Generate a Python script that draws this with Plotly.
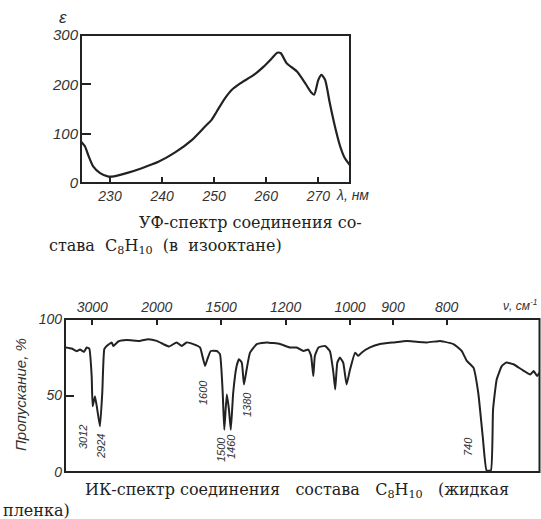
import plotly.graph_objects as go

# ---------------- UV spectrum data (wavelength, nm ; epsilon) ----------------
uv_nm = [224.4, 225.2, 225.8, 226.8, 228.1, 229.7, 231.0, 233.5, 236.1, 239.3,
         242.5, 245.7, 248.2, 249.5, 250.5, 252.1, 253.4, 255.0, 257.6, 259.5,
         261.1, 262.1, 262.8, 263.9, 265.9, 267.5, 268.6, 269.2, 270.0, 270.6,
         271.3, 272.2, 273.2, 274.2, 275.1, 276.0]
uv_eps = [84, 74, 57, 33, 20, 13, 14, 21, 30, 43,
          62, 87, 114, 128, 145, 172, 189, 202, 219, 236,
          253, 264, 263, 243, 226, 202, 184, 179, 209, 219,
          209, 162, 114, 74, 50, 37]
uv_xticks = [230, 240, 250, 260, 270]
uv_yticks = [0, 100, 200, 300]

# ---------------- IR spectrum data (wavenumber, cm-1 ; transmittance %) ----------------
ir_nu = [3769, 3571, 3413, 3316, 3206, 3136, 3071, 3014, 2991, 2938,
         2888, 2831, 2784, 2744, 2698, 2607, 2580, 2496, 2368, 2189,
         2091, 2000, 1934, 1880, 1813, 1771, 1732, 1682, 1634, 1618,
         1600, 1585, 1563, 1526, 1507, 1491, 1482, 1468, 1456, 1446,
         1433, 1415, 1403, 1389, 1378, 1365, 1349, 1318, 1275, 1221,
         1184, 1160, 1137, 1121, 1112, 1105, 1100, 1089, 1069, 1055,
         1045, 1040, 1034, 1027, 1018, 1009, 1000, 987, 979, 971,
         951, 928, 899, 872, 859, 834, 811, 806, 789, 776,
         768, 758, 751, 744.5, 739, 733, 730, 725, 718, 712,
         703, 692.5, 682, 678, 674, 671]
ir_T = [81.4, 80.7, 79.0, 80.0, 78.5, 81.4, 80.7, 62.7, 43.0, 49.5,
        40.8, 29.8, 51.8, 80.3, 82.4, 84.7, 82.4, 85.3, 86.2, 85.7,
        86.8, 85.7, 83.6, 82.0, 84.7, 82.4, 84.7, 83.6, 81.4, 75.9,
        69.3, 73.7, 79.1, 79.1, 77.0, 51.8, 27.6, 50.7, 40.8, 27.6,
        51.8, 69.3, 73.7, 71.5, 57.2, 67.0, 78.0, 83.6, 84.7, 83.6,
        81.4, 81.4, 79.1, 80.0, 75.9, 62.7, 75.9, 81.4, 82.4, 79.0,
        65.0, 54.0, 71.5, 74.8, 71.5, 57.2, 67.0, 78.0, 75.9, 78.0,
        81.4, 83.6, 84.7, 85.7, 85.3, 84.7, 85.7, 85.3, 83.6, 79.1,
        72.6, 68.2, 51.8, 23.2, 1.0, 1.0, 40.8, 60.5, 69.3, 71.5,
        70.4, 67.0, 63.8, 66.0, 62.7, 65.0]
ir_tick_nu = [3000, 2000, 1500, 1200, 1000, 900, 800]
ir_yticks = [0, 50, 100]
ir_peaks = ["3012", "2924", "1600", "1500", "1460", "1380", "740"]

# The IR chart is drawn linear in wavelength (um), labelled in wavenumbers
ir_um = [1e4 / v for v in ir_nu]
ir_tick_um = [1e4 / v for v in ir_tick_nu]

W, H = 541, 519
INK = "#222222"
TICKFONT = dict(family="Liberation Sans Narrow, Liberation Sans, Arial", size=14,
                color="#333333", style="italic")


def px(x, y):
    return x / W, 1 - y / H


fig = go.Figure()
fig.add_trace(go.Scatter(x=uv_nm, y=uv_eps, mode="lines", xaxis="x", yaxis="y",
                         line=dict(color=INK, width=2.2, shape="spline", smoothing=0.6),
                         showlegend=False, hoverinfo="skip"))
fig.add_trace(go.Scatter(x=ir_um, y=ir_T, mode="lines", xaxis="x2", yaxis="y2",
                         line=dict(color=INK, width=2, shape="spline", smoothing=0.4),
                         showlegend=False, hoverinfo="skip"))

axis_common = dict(showline=False, showgrid=False, zeroline=False, ticks="inside",
                   tickcolor=INK, tickwidth=1.5, tickfont=TICKFONT, automargin=False)

fig.update_layout(
    width=W, height=H,
    margin=dict(l=0, r=0, t=0, b=0),
    paper_bgcolor="white", plot_bgcolor="white",
    xaxis=dict(axis_common, domain=[81 / W, 350 / W], anchor="y",
               range=[224.43, 276.08], tickvals=uv_xticks, ticklen=6,
               ticklabelstandoff=3),
    yaxis=dict(axis_common, domain=[1 - 183 / H, 1 - 35 / H], anchor="x",
               range=[0, 300], tickvals=uv_yticks, ticklen=10,
               tickfont=dict(TICKFONT, size=15), ticklabelstandoff=2),
    xaxis2=dict(axis_common, domain=[65 / W, 539.5 / W], anchor="y2", side="top",
                range=[2.628, 14.90], tickvals=ir_tick_um,
                ticktext=[str(v) for v in ir_tick_nu], ticklen=6,
                ticklabelstandoff=3),
    yaxis2=dict(axis_common, domain=[1 - 472 / H, 1 - 319 / H], anchor="x2",
                range=[0, 100], tickvals=ir_yticks, ticklen=9,
                ticklabelstandoff=2),
)

# frames around both panels
for xr, yr in (("x domain", "y domain"), ("x2 domain", "y2 domain")):
    fig.add_shape(type="rect", xref=xr, yref=yr, x0=0, x1=1, y0=0, y1=1,
                  line=dict(color=INK, width=2), fillcolor="rgba(0,0,0,0)", layer="above")

ann = []


def add_text(x, y, text, size=14, family="Liberation Sans, Arial", italic=True,
             xanchor="center", yanchor="middle", angle=0, color="#333333"):
    xp, yp = px(x, y)
    font = dict(family=family, size=size, color=color)
    if italic:
        font["style"] = "italic"
    ann.append(dict(x=xp, y=yp, xref="paper", yref="paper", text=text,
                    showarrow=False, font=font, xanchor=xanchor, yanchor=yanchor,
                    textangle=angle))


NB = "\u00a0"

# axis titles
add_text(63, 18, "ε", size=17)
add_text(334, 195, "λ, нм", size=14, xanchor="left")
add_text(539, 305, "ν, см<sup>-1</sup>", size=12, xanchor="right")
add_text(20, 395, "Пропускание, %", size=15, angle=-90)

# peak labels on the IR spectrum
peak_pos = [(83, 437), (101, 447), (203, 393), (221, 450), (231, 447), (247, 405), (468, 447)]
for lab, (x, y) in zip(ir_peaks, peak_pos):
    add_text(x, y, lab, size=11, family="Liberation Sans Narrow, Liberation Sans, Arial",
             angle=-90)

# captions
SERIF = "DejaVu Serif, Liberation Serif, serif"
CAP = 16
add_text(137, 222, "УФ-спектр соединения со-", size=CAP, family=SERIF, italic=False,
         xanchor="left", color="#222222")
add_text(47, 246, f"става{NB} C<sub>8</sub>H<sub>10</sub>{NB} (в{NB} изооктане)", size=CAP,
         family=SERIF, italic=False, xanchor="left", color="#222222")
add_text(83, 490, f"ИК-спектр соединения{NB}{NB} состава{NB}{NB} C<sub>8</sub>H<sub>10</sub>{NB}{NB} (жидкая",
         size=CAP, family=SERIF, italic=False, xanchor="left", color="#222222")
add_text(1, 510, "пленка)", size=CAP, family=SERIF, italic=False, xanchor="left",
         color="#222222")

fig.update_layout(annotations=ann)
fig.write_html("out.html", config={"displayModeBar": False},
               post_script="document.body.style.margin='0';document.body.style.overflow='hidden';")
